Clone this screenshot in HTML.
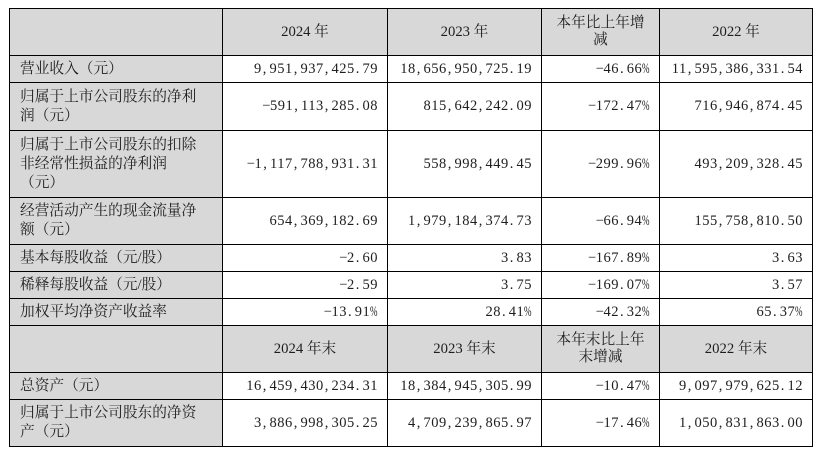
<!DOCTYPE html>
<html><head><meta charset="utf-8">
<style>
html,body{margin:0;padding:0;background:#fff;}
#c{position:relative;width:822px;height:455px;overflow:hidden;background:#fff;
font-family:"Liberation Serif","Noto Serif CJK SC",serif;color:#1e1e1e;}
.r{position:absolute;left:0;width:822px;}
.c{position:absolute;top:0;height:100%;display:flex;align-items:center;box-sizing:border-box;}
.c0{left:10px;width:212px;padding-left:10px;justify-content:flex-start;font-size:14.7px;line-height:19px;}
.c1{left:223px;width:164px;}
.c2{left:388px;width:153px;}
.c3{left:542px;width:117px;}
.c4{left:660px;width:152px;}
.v{justify-content:flex-end;padding-right:9px;font-size:14.5px;letter-spacing:0.5px;white-space:nowrap;}
.h{justify-content:center;text-align:center;font-size:14.7px;line-height:17px;}
.g{background:#d8d8d8;}
.v i{display:inline-block;width:7.75px;font-style:normal;letter-spacing:0;text-align:left;padding-left:1px;box-sizing:border-box;}
.v i.m{text-align:center;padding-left:0;}
.v i.p{transform:scaleX(0.62);transform-origin:left center;padding-left:0;}
.hl{position:absolute;left:9px;width:804px;height:1px;background:#000;}
.vl{position:absolute;top:8px;width:1px;height:439px;background:#000;}
</style></head><body><div id="c">

<div class="r" style="top:9px;height:46px">
<div class="c c0 g"></div>
<div class="c c1 h g">2024 年</div>
<div class="c c2 h g">2023 年</div>
<div class="c c3 h g">本年比上年增<br>减</div>
<div class="c c4 h g">2022 年</div>
</div>

<div class="r" style="top:56px;height:26px">
<div class="c c0 g">营业收入（元）</div>
<div class="c c1 v">9<i>,</i>951<i>,</i>937<i>,</i>425<i>.</i>79</div>
<div class="c c2 v">18<i>,</i>656<i>,</i>950<i>,</i>725<i>.</i>19</div>
<div class="c c3 v"><i class="m">−</i>46<i>.</i>66<i class="p">%</i></div>
<div class="c c4 v">11<i>,</i>595<i>,</i>386<i>,</i>331<i>.</i>54</div>
</div>

<div class="r" style="top:83px;height:47px">
<div class="c c0 g">归属于上市公司股东的净利<br>润（元）</div>
<div class="c c1 v"><i class="m">−</i>591<i>,</i>113<i>,</i>285<i>.</i>08</div>
<div class="c c2 v">815<i>,</i>642<i>,</i>242<i>.</i>09</div>
<div class="c c3 v"><i class="m">−</i>172<i>.</i>47<i class="p">%</i></div>
<div class="c c4 v">716<i>,</i>946<i>,</i>874<i>.</i>45</div>
</div>

<div class="r" style="top:131px;height:66px">
<div class="c c0 g">归属于上市公司股东的扣除<br>非经常性损益的净利润<br>（元）</div>
<div class="c c1 v"><i class="m">−</i>1<i>,</i>117<i>,</i>788<i>,</i>931<i>.</i>31</div>
<div class="c c2 v">558<i>,</i>998<i>,</i>449<i>.</i>45</div>
<div class="c c3 v"><i class="m">−</i>299<i>.</i>96<i class="p">%</i></div>
<div class="c c4 v">493<i>,</i>209<i>,</i>328<i>.</i>45</div>
</div>

<div class="r" style="top:198px;height:46px">
<div class="c c0 g">经营活动产生的现金流量净<br>额（元）</div>
<div class="c c1 v">654<i>,</i>369<i>,</i>182<i>.</i>69</div>
<div class="c c2 v">1<i>,</i>979<i>,</i>184<i>,</i>374<i>.</i>73</div>
<div class="c c3 v"><i class="m">−</i>66<i>.</i>94<i class="p">%</i></div>
<div class="c c4 v">155<i>,</i>758<i>,</i>810<i>.</i>50</div>
</div>

<div class="r" style="top:245px;height:26px">
<div class="c c0 g">基本每股收益（元/股）</div>
<div class="c c1 v"><i class="m">−</i>2<i>.</i>60</div>
<div class="c c2 v">3<i>.</i>83</div>
<div class="c c3 v"><i class="m">−</i>167<i>.</i>89<i class="p">%</i></div>
<div class="c c4 v">3<i>.</i>63</div>
</div>

<div class="r" style="top:272px;height:26px">
<div class="c c0 g">稀释每股收益（元/股）</div>
<div class="c c1 v"><i class="m">−</i>2<i>.</i>59</div>
<div class="c c2 v">3<i>.</i>75</div>
<div class="c c3 v"><i class="m">−</i>169<i>.</i>07<i class="p">%</i></div>
<div class="c c4 v">3<i>.</i>57</div>
</div>

<div class="r" style="top:299px;height:26px">
<div class="c c0 g">加权平均净资产收益率</div>
<div class="c c1 v"><i class="m">−</i>13<i>.</i>91<i class="p">%</i></div>
<div class="c c2 v">28<i>.</i>41<i class="p">%</i></div>
<div class="c c3 v"><i class="m">−</i>42<i>.</i>32<i class="p">%</i></div>
<div class="c c4 v">65<i>.</i>37<i class="p">%</i></div>
</div>

<div class="r" style="top:326px;height:46px">
<div class="c c0 g"></div>
<div class="c c1 h g">2024 年末</div>
<div class="c c2 h g">2023 年末</div>
<div class="c c3 h g">本年末比上年<br>末增减</div>
<div class="c c4 h g">2022 年末</div>
</div>

<div class="r" style="top:373px;height:26px">
<div class="c c0 g">总资产（元）</div>
<div class="c c1 v">16<i>,</i>459<i>,</i>430<i>,</i>234<i>.</i>31</div>
<div class="c c2 v">18<i>,</i>384<i>,</i>945<i>,</i>305<i>.</i>99</div>
<div class="c c3 v"><i class="m">−</i>10<i>.</i>47<i class="p">%</i></div>
<div class="c c4 v">9<i>,</i>097<i>,</i>979<i>,</i>625<i>.</i>12</div>
</div>

<div class="r" style="top:400px;height:46px">
<div class="c c0 g">归属于上市公司股东的净资<br>产（元）</div>
<div class="c c1 v">3<i>,</i>886<i>,</i>998<i>,</i>305<i>.</i>25</div>
<div class="c c2 v">4<i>,</i>709<i>,</i>239<i>,</i>865<i>.</i>97</div>
<div class="c c3 v"><i class="m">−</i>17<i>.</i>46<i class="p">%</i></div>
<div class="c c4 v">1<i>,</i>050<i>,</i>831<i>,</i>863<i>.</i>00</div>
</div>

<div class="hl" style="top:8px"></div>
<div class="hl" style="top:55px"></div>
<div class="hl" style="top:82px"></div>
<div class="hl" style="top:130px"></div>
<div class="hl" style="top:197px"></div>
<div class="hl" style="top:244px"></div>
<div class="hl" style="top:271px"></div>
<div class="hl" style="top:298px"></div>
<div class="hl" style="top:325px"></div>
<div class="hl" style="top:372px"></div>
<div class="hl" style="top:399px"></div>
<div class="hl" style="top:446px"></div>

<div class="vl" style="left:9px"></div>
<div class="vl" style="left:222px"></div>
<div class="vl" style="left:387px"></div>
<div class="vl" style="left:541px"></div>
<div class="vl" style="left:659px"></div>
<div class="vl" style="left:812px"></div>

</div></body></html>
